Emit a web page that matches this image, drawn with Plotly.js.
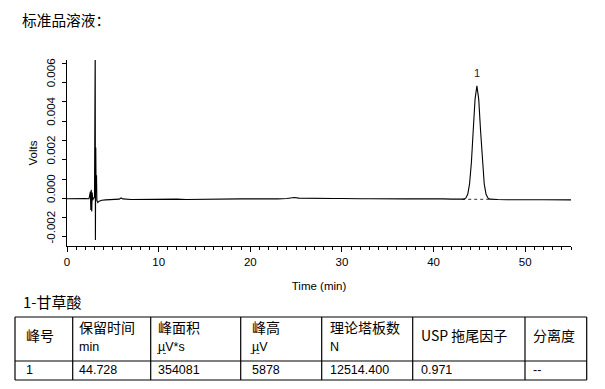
<!DOCTYPE html>
<html>
<head>
<meta charset="utf-8">
<script src="https://cdn.plot.ly/plotly-3.0.1.min.js"></script>
<style>html,body{margin:0;padding:0;background:#fff;}#chart{width:605px;height:389px;}</style>
</head>
<body>
<div id="chart"></div>
<script>
// ---- data ----
const timeMin = [0, 0.5, 1.0, 1.5, 2.0, 2.4, 2.55, 2.6, 2.65, 2.7, 2.75, 2.8, 2.9, 3.0,
  3.08, 3.10, 3.14, 3.18, 3.22, 3.26, 3.36, 3.5, 3.8, 4.2, 5.0, 5.7, 5.9, 6.1,
  7, 8, 9, 10, 11, 12, 13, 14, 15, 16, 17, 18, 19, 20, 21, 22, 23, 24, 24.8, 25.3,
  26, 27, 28, 29, 30, 31, 32, 33, 34, 35, 36, 37, 38, 39, 40, 41, 42,
  43.13, 43.33, 43.53, 43.73, 43.93, 44.13, 44.33, 44.53, 44.73, 44.93, 45.13, 45.33,
  45.53, 45.73, 45.93, 46.13, 46.33, 47, 48, 49, 50, 51, 52, 53, 54, 55];
const volts = [-0.00002, -0.00001, -0.00003, -0.00002, -0.00001, -0.00002, 0.00035, -0.00060, 0.00045, -0.00068, 0.00030, -0.00010, 0.00002, 0.00004,
  0.0080, -0.00216, 0.00264, 0.00030, 0.00120, -0.00010, -0.00022, -0.00015, -0.00010, -0.00008, -0.00006, -0.00004, 0.00002, -0.00003,
  -0.00006, -0.00005, -0.00007, -0.00006, -0.00005, -0.00004, -0.00006, -0.00005, -0.00004, -0.00003, -0.00005, -0.00004, -0.00003, -0.00003, -0.00004, -0.00002, -0.00003, -0.00001, 0.00004, 0.00001,
  0.00000, -0.00002, -0.00002, -0.00001, -0.00001, -0.00003, -0.00002, -0.00002, -0.00003, -0.00002, -0.00002, -0.00003, -0.00003, -0.00002, -0.00004, -0.00003, -0.00004,
  -0.00005, -0.00004, 0.00002, 0.00021, 0.00075, 0.00186, 0.00352, 0.00514, 0.00583, 0.00514, 0.00352, 0.00186,
  0.00075, 0.00021, 0.00002, -0.00004, -0.00005, -0.00006, -0.00007, -0.00006, -0.00006, -0.00007, -0.00007, -0.00008, -0.00007, -0.00008];
const baselineTime = [43.13, 46.2];
const baselineVolts = [-0.00005, -0.00005];
const peakLabels = ["1"];
const peakTime = [44.73];
const peakVolts = [0.00583];

const xTickVals = [0, 10, 20, 30, 40, 50];
const xTickText = ["0", "10", "20", "30", "40", "50"];
const yTickVals = [-0.002, 0, 0.002, 0.004, 0.006];
const yTickText = ["-0.002", "0.000", "0.002", "0.004", "0.006"];

const chartTitle = "标准品溶液：";
const tableTitle = "1-甘草酸";
const headerLine1 = ["峰号", "保留时间", "峰面积", "峰高", "理论塔板数", "USP 拖尾因子", "分离度"];
const headerLine2 = ["", "min", "µV*s", "µV", "N", "", ""];
const rowValues = ["1", "44.728", "354081", "5878", "12514.400", "0.971", "--"];

// ---- layout (pixel geometry) ----
const W = 605, H = 389;
const PL = 67, PR = 571, PT = 60, PB = 246;
const px = X => (X - PL) / (PR - PL);
const py = Y => (PB - Y) / (PB - PT);

const colBorders = [15, 72.7, 150.7, 240.7, 321.7, 412.7, 525, 586.7];
const colTextX = [25, 78, 157, 250.5, 329, 420, 531.5];
const rowBorders = [317, 361, 380];

const shapes = [];
rowBorders.forEach(Y => shapes.push({type: 'line', xref: 'paper', yref: 'paper',
  x0: px(colBorders[0]), x1: px(colBorders[colBorders.length - 1]), y0: py(Y), y1: py(Y),
  line: {color: '#000', width: 1.2}}));
colBorders.forEach(X => shapes.push({type: 'line', xref: 'paper', yref: 'paper',
  x0: px(X), x1: px(X), y0: py(rowBorders[0]), y1: py(rowBorders[rowBorders.length - 1]),
  line: {color: '#000', width: 1.2}}));
// spell-check squiggles under µV units
headerLine2.forEach((u, i) => {
  if (u.indexOf('µV') === 0) {
    shapes.push({type: 'line', xref: 'paper', yref: 'paper',
      x0: px(colTextX[i]), x1: px(colTextX[i] + 12), y0: py(353.5), y1: py(353.5),
      line: {color: '#d02020', width: 1, dash: 'dot'}});
  }
});

const cjk = '"Noto Sans CJK SC", "Liberation Sans", sans-serif';
const latin = '"Liberation Sans", Arial, sans-serif';
const annotations = [];
annotations.push({xref: 'paper', yref: 'paper', x: px(22), y: py(301.5), xanchor: 'left', yanchor: 'middle',
  text: tableTitle, showarrow: false, borderpad: 0, font: {family: cjk, size: 15, color: '#000'}});
headerLine1.forEach((h, i) => {
  const two = headerLine2[i] !== "";
  annotations.push({xref: 'paper', yref: 'paper', x: px(colTextX[i]), y: py(two ? 326.5 : 335),
    xanchor: 'left', yanchor: 'middle', text: h, showarrow: false, borderpad: 0,
    font: {family: cjk, size: 14, color: '#000'}});
  if (two) {
    annotations.push({xref: 'paper', yref: 'paper', x: px(colTextX[i]), y: py(346.5),
      xanchor: 'left', yanchor: 'middle', text: headerLine2[i], showarrow: false, borderpad: 0,
      font: {family: latin, size: 12.5, color: '#000'}});
  }
});
rowValues.forEach((v, i) => {
  annotations.push({xref: 'paper', yref: 'paper', x: px(colTextX[i]), y: py(370.3),
    xanchor: 'left', yanchor: 'middle', text: v, showarrow: false, borderpad: 0,
    font: {family: latin, size: 12.5, color: '#000'}});
});
peakLabels.forEach((lab, i) => {
  annotations.push({x: peakTime[i], y: peakVolts[i], xref: 'x', yref: 'y', text: lab,
    showarrow: false, yanchor: 'bottom', yshift: 5, font: {family: latin, size: 11, color: '#1c1c3c'}});
});

const traces = [
  {x: baselineTime, y: baselineVolts, mode: 'lines', line: {color: '#333', width: 1, dash: '3px,3px'},
   hoverinfo: 'skip', showlegend: false},
  {x: timeMin, y: volts, mode: 'lines', line: {color: '#000', width: 1.1}, showlegend: false}
];

const layout = {
  width: W, height: H,
  margin: {l: PL, r: W - PR, t: PT, b: H - PB, pad: 0},
  paper_bgcolor: '#fff', plot_bgcolor: '#fff',
  showlegend: false,
  title: {text: chartTitle, xref: 'container', yref: 'container', x: 22 / W, xanchor: 'left',
    y: 1 - 20.5 / H, yanchor: 'middle', font: {family: cjk, size: 14.7, color: '#000'}},
  xaxis: {range: [0, 55], showgrid: false, zeroline: false, showline: true, linecolor: '#000', linewidth: 1,
    ticks: 'outside', ticklen: 5, tickcolor: '#000', tickwidth: 1,
    tickmode: 'array', tickvals: xTickVals, ticktext: xTickText,
    minor: {dtick: 1, tick0: 0, ticks: 'outside', ticklen: 3, tickcolor: '#000', tickwidth: 1, showgrid: false},
    tickfont: {family: latin, size: 11.5, color: '#000'},
    title: {text: 'Time (min)', standoff: 15, font: {family: latin, size: 11.5, color: '#000'}}},
  yaxis: {range: [-0.00247, 0.00717], showgrid: false, zeroline: false, showline: true, linecolor: '#000', linewidth: 1,
    ticks: 'outside', ticklen: 4, tickcolor: '#000', tickwidth: 1,
    tickmode: 'array', tickvals: yTickVals, ticktext: yTickText, tickangle: -90, ticklabelshift: -8,
    ticklabelstandoff: 2,
    minor: {dtick: 0.001, tick0: 0, ticks: 'outside', ticklen: 4, tickcolor: '#000', tickwidth: 1, showgrid: false},
    tickfont: {family: latin, size: 11.5, color: '#000'},
    title: {text: 'Volts', standoff: 5, font: {family: latin, size: 11.5, color: '#000'}}},
  shapes: shapes,
  annotations: annotations
};

Plotly.newPlot('chart', traces, layout, {displayModeBar: false, staticPlot: true});
</script>
</body>
</html>
